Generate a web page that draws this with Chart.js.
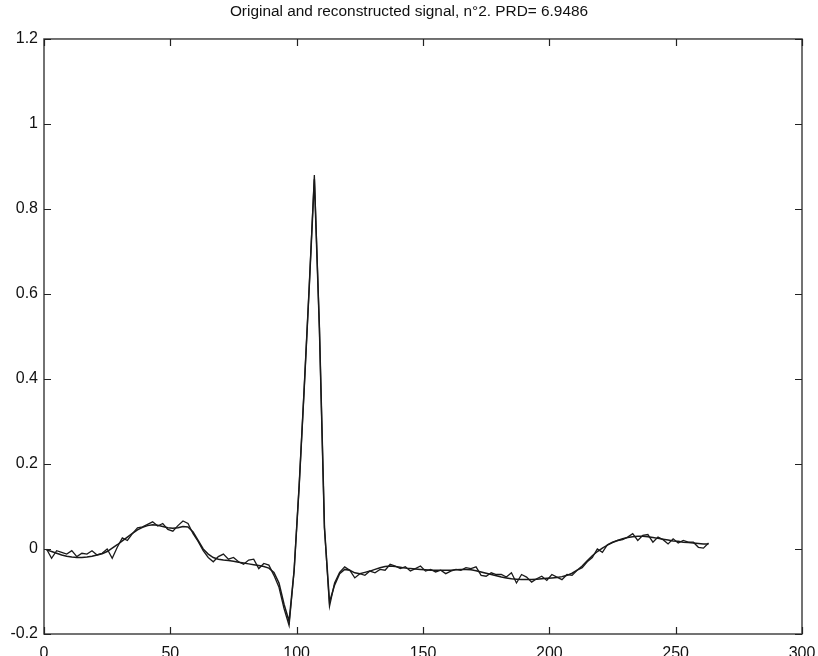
<!DOCTYPE html>
<html>
<head>
<meta charset="utf-8">
<script src="https://cdn.jsdelivr.net/npm/chart.js@4/dist/chart.umd.min.js"></script>
<style>
  html, body { margin: 0; padding: 0; background: #fff; }
  #wrap { width: 818px; height: 656px; }
</style>
</head>
<body>
<div id="wrap"><canvas id="c" width="818" height="656"></canvas></div>
<script>
// Sample index (every second sample of the beat)
const samples = [
  1,3,5,7,9,11,13,15,17,19,21,23,25,27,29,31,33,35,37,39,
  41,43,45,47,49,51,53,55,57,59,61,63,65,67,69,71,73,75,77,79,
  81,83,85,87,89,91,93,95,97,99,101,103,105,107,109,111,113,115,117,119,
  121,123,125,127,129,131,133,135,137,139,141,143,145,147,149,151,153,155,157,159,
  161,163,165,167,169,171,173,175,177,179,181,183,185,187,189,191,193,195,197,199,
  201,203,205,207,209,211,213,215,217,219,221,223,225,227,229,231,233,235,237,239,
  241,243,245,247,249,251,253,255,257,259,261,263
];

// Original ECG beat
const original = [
  0.000,-0.022,-0.004,-0.008,-0.012,-0.004,-0.018,-0.010,-0.012,-0.004,
  -0.014,-0.010,0.000,-0.022,0.004,0.026,0.020,0.036,0.050,0.052,
  0.058,0.064,0.054,0.060,0.046,0.042,0.055,0.066,0.060,0.036,
  0.018,-0.004,-0.020,-0.030,-0.018,-0.012,-0.024,-0.020,-0.030,-0.036,
  -0.026,-0.024,-0.046,-0.034,-0.038,-0.062,-0.090,-0.140,-0.180,-0.050,
  0.150,0.380,0.620,0.880,0.520,0.050,-0.135,-0.080,-0.055,-0.042,
  -0.050,-0.068,-0.058,-0.062,-0.052,-0.056,-0.048,-0.050,-0.036,-0.040,
  -0.046,-0.042,-0.052,-0.046,-0.040,-0.052,-0.048,-0.054,-0.050,-0.058,
  -0.052,-0.048,-0.050,-0.044,-0.046,-0.042,-0.062,-0.064,-0.056,-0.060,
  -0.060,-0.066,-0.056,-0.080,-0.060,-0.066,-0.078,-0.070,-0.064,-0.074,
  -0.060,-0.066,-0.072,-0.060,-0.062,-0.050,-0.044,-0.030,-0.020,0.000,
  -0.008,0.010,0.016,0.020,0.022,0.028,0.036,0.020,0.032,0.034,
  0.016,0.028,0.022,0.012,0.024,0.014,0.020,0.016,0.016,0.004,
  0.002,0.014
];

// Reconstructed beat
const reconstructed = [
  -0.002,-0.006,-0.010,-0.014,-0.017,-0.019,-0.020,-0.020,-0.019,-0.017,
  -0.014,-0.011,-0.006,0.002,0.010,0.019,0.028,0.037,0.045,0.051,
  0.055,0.057,0.056,0.053,0.050,0.049,0.050,0.053,0.052,0.040,
  0.020,0.000,-0.012,-0.020,-0.024,-0.026,-0.027,-0.029,-0.031,-0.033,
  -0.035,-0.037,-0.039,-0.041,-0.045,-0.055,-0.080,-0.130,-0.170,-0.050,
  0.150,0.380,0.620,0.870,0.520,0.050,-0.125,-0.085,-0.058,-0.048,
  -0.050,-0.056,-0.058,-0.055,-0.052,-0.048,-0.044,-0.041,-0.040,-0.041,
  -0.043,-0.045,-0.046,-0.047,-0.048,-0.049,-0.050,-0.050,-0.050,-0.050,
  -0.050,-0.049,-0.048,-0.048,-0.049,-0.051,-0.054,-0.057,-0.060,-0.063,
  -0.066,-0.068,-0.070,-0.071,-0.072,-0.072,-0.072,-0.071,-0.070,-0.069,
  -0.068,-0.067,-0.065,-0.062,-0.057,-0.050,-0.040,-0.028,-0.016,-0.006,
  0.002,0.009,0.015,0.020,0.024,0.027,0.029,0.030,0.030,0.029,
  0.027,0.025,0.023,0.021,0.019,0.018,0.016,0.015,0.014,0.013,
  0.012,0.012
];

const xTicks = [0, 50, 100, 150, 200, 250, 300];
const yTicks = [-0.2, 0, 0.2, 0.4, 0.6, 0.8, 1, 1.2];
const titleText = 'Original and reconstructed signal, n\u00b02. PRD= 6.9486';

const toPoints = (ys) => samples.map((x, i) => ({ x: x, y: ys[i] }));

// Box frame with inward ticks on all four sides
const framePlugin = {
  id: 'frame',
  afterDatasetsDraw(chart) {
    const { ctx, chartArea: a, scales } = chart;
    const len = 7;
    ctx.save();
    ctx.strokeStyle = '#444';
    ctx.lineWidth = 1.5;
    ctx.strokeRect(a.left, a.top, a.right - a.left, a.bottom - a.top);
    ctx.lineWidth = 1.2;
    ctx.strokeStyle = '#222';
    ctx.beginPath();
    scales.x.ticks.forEach(t => {
      const px = Math.round(scales.x.getPixelForValue(t.value)) + 0.5;
      ctx.moveTo(px, a.bottom); ctx.lineTo(px, a.bottom - len);
      ctx.moveTo(px, a.top); ctx.lineTo(px, a.top + len);
    });
    scales.y.ticks.forEach(t => {
      const py = Math.round(scales.y.getPixelForValue(t.value)) + 0.5;
      ctx.moveTo(a.left, py); ctx.lineTo(a.left + len, py);
      ctx.moveTo(a.right, py); ctx.lineTo(a.right - len, py);
    });
    ctx.stroke();
    ctx.restore();
  }
};

const bgPlugin = {
  id: 'bg',
  beforeDraw(chart) {
    const ctx = chart.ctx;
    ctx.save();
    ctx.fillStyle = '#fff';
    ctx.fillRect(0, 0, chart.width, chart.height);
    ctx.restore();
  }
};

new Chart(document.getElementById('c'), {
  type: 'line',
  data: {
    datasets: [
      {
        label: 'original',
        data: toPoints(original),
        borderColor: '#1a1a1a',
        borderWidth: 1.3,
        pointRadius: 0,
        tension: 0,
        fill: false
      },
      {
        label: 'reconstructed',
        data: toPoints(reconstructed),
        borderColor: '#1a1a1a',
        borderWidth: 1.5,
        pointRadius: 0,
        tension: 0,
        fill: false
      }
    ]
  },
  options: {
    responsive: false,
    animation: false,
    devicePixelRatio: 1,
    layout: { padding: { left: 0, right: 0, top: 0, bottom: 0 } },
    plugins: {
      legend: { display: false },
      tooltip: { enabled: false },
      title: {
        display: true,
        text: titleText,
        color: '#111',
        font: { family: 'Liberation Sans, Arial, sans-serif', size: 15.4, weight: 'normal', lineHeight: 1.2 },
        padding: { top: 3, bottom: 17.5 }
      }
    },
    scales: {
      x: {
        type: 'linear',
        min: 0,
        max: 300,
        afterBuildTicks(scale) { scale.ticks = xTicks.map(v => ({ value: v })); },
        afterFit(scale) { scale.height = 22; scale.paddingLeft = 0; scale.paddingRight = 16; },
        grid: { display: false, drawTicks: false },
        border: { display: false },
        ticks: {
          color: '#111',
          padding: 10,
          maxRotation: 0,
          autoSkip: false,
          font: { family: 'Liberation Sans, Arial, sans-serif', size: 16 },
          callback: (v) => String(v)
        }
      },
      y: {
        type: 'linear',
        min: -0.2,
        max: 1.2,
        afterBuildTicks(scale) { scale.ticks = yTicks.map(v => ({ value: v })); },
        afterFit(scale) { scale.width = 44; scale.paddingTop = 0; scale.paddingBottom = 0; },
        grid: { display: false, drawTicks: false },
        border: { display: false },
        ticks: {
          color: '#111',
          padding: 6,
          autoSkip: false,
          font: { family: 'Liberation Sans, Arial, sans-serif', size: 16 },
          callback: (v) => String(Math.round(v * 10) / 10)
        }
      }
    }
  },
  plugins: [bgPlugin, framePlugin]
});
</script>
</body>
</html>
